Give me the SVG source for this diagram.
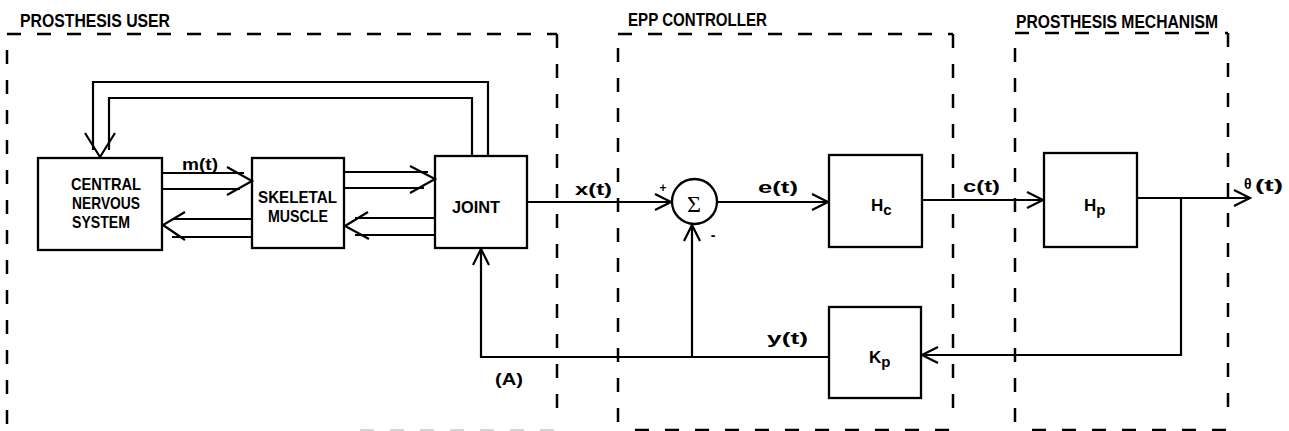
<svg xmlns="http://www.w3.org/2000/svg" width="1289" height="431" viewBox="0 0 1289 431">
<defs>
<style>
.box{fill:none;stroke:#000;stroke-width:2.3}
.ln{fill:none;stroke:#000;stroke-width:2.2;stroke-linejoin:miter}
.dash{fill:none;stroke:#000;stroke-width:2.5;stroke-dasharray:14 16}
.t{font-family:"Liberation Sans",Arial,sans-serif;font-weight:bold;fill:#000}
.s{font-family:"Liberation Sans",Arial,sans-serif;font-weight:bold;fill:#000}
</style>
<marker id="ah" markerUnits="userSpaceOnUse" viewBox="0 0 20 20" markerWidth="20" markerHeight="20" refX="18" refY="10" orient="auto">
<path d="M2,2 L18,10 L2,18" fill="none" stroke="#000" stroke-width="2.2"/>
</marker>
</defs>
<rect width="1289" height="431" fill="#fff"/>

<g id="regions">
<g id="user-region">
<path class="dash" d="M7,34 H557"/>
<path class="dash" d="M7,50 V431"/>
<path class="dash" d="M557,34 V420"/>
<path d="M360,430 H557" fill="none" stroke="#d4d4d4" stroke-width="2" stroke-dasharray="14 16"/>
<text class="t" x="20" y="27" font-size="19" textLength="150" lengthAdjust="spacingAndGlyphs">PROSTHESIS USER</text>
</g>
<g id="epp-region">
<path class="dash" d="M618,34 H953"/>
<path class="dash" d="M618,48 V431"/>
<path class="dash" d="M953,34 V418"/>
<path class="dash" d="M635,430 H953"/>
<text class="t" x="628" y="26" font-size="19" textLength="139" lengthAdjust="spacingAndGlyphs">EPP CONTROLLER</text>
</g>
<g id="mechanism-region">
<path class="dash" d="M1015,33 H1228"/>
<path class="dash" d="M1015,48 V431"/>
<path class="dash" d="M1228,33 V416"/>
<path class="dash" d="M1032,430 H1228"/>
<text class="t" x="1016" y="28" font-size="19" textLength="202" lengthAdjust="spacingAndGlyphs">PROSTHESIS MECHANISM</text>
</g>
</g>

<g id="cns">
<rect class="box" x="38" y="158" width="124" height="92"/>
<text class="t" x="71" y="190" font-size="17" textLength="70" lengthAdjust="spacingAndGlyphs">CENTRAL</text>
<text class="t" x="72" y="209" font-size="17" textLength="68" lengthAdjust="spacingAndGlyphs">NERVOUS</text>
<text class="t" x="72" y="228" font-size="17" textLength="58" lengthAdjust="spacingAndGlyphs">SYSTEM</text>
</g>

<g id="skeletal-muscle">
<rect class="box" x="252" y="158" width="92" height="90"/>
<text class="t" x="258" y="203" font-size="16" textLength="79" lengthAdjust="spacingAndGlyphs">SKELETAL</text>
<text class="t" x="268" y="222" font-size="16" textLength="60" lengthAdjust="spacingAndGlyphs">MUSCLE</text>
</g>

<g id="joint">
<rect class="box" x="435" y="156" width="92" height="92"/>
<text class="t" x="452" y="213" font-size="16" textLength="48" lengthAdjust="spacingAndGlyphs">JOINT</text>
</g>

<g id="summer">
<circle class="box" cx="694.5" cy="201.5" r="22.5"/>
<text x="694" y="212" font-family="Liberation Serif, serif" font-size="24" text-anchor="middle">Σ</text>
</g>

<g id="hc">
<rect class="box" x="829" y="155" width="93" height="92"/>
<text class="s" x="871" y="211" font-size="17">H<tspan font-size="15" dy="4">c</tspan></text>
</g>

<g id="hp">
<rect class="box" x="1044" y="153" width="93" height="94"/>
<text class="s" x="1084" y="211" font-size="17">H<tspan font-size="15" dy="4">p</tspan></text>
</g>

<g id="kp">
<rect class="box" x="829" y="307" width="92" height="91"/>
<text class="s" x="869" y="363" font-size="17">K<tspan font-size="15" dy="4">p</tspan></text>
</g>

<g id="connectors">
<path class="ln" d="M488,156 V82 H93 V150"/>
<path class="ln" d="M472,156 V98 H109 V150"/>
<path class="ln" d="M85,133 L100,157 L115,133"/>
<path class="ln" d="M162,173 H244"/>
<path class="ln" d="M162,189 H240"/>
<path class="ln" d="M227,167 L252,181 L227,195"/>
<text class="s" x="182" y="170" font-size="17" textLength="36" lengthAdjust="spacingAndGlyphs">m(t)</text>
<path class="ln" d="M252,219 H172"/>
<path class="ln" d="M252,237 H172"/>
<path class="ln" d="M185,212 L163,225 L185,240"/>
<path class="ln" d="M344,172 H428"/>
<path class="ln" d="M344,188 H424"/>
<path class="ln" d="M410,166 L435,179 L410,193"/>
<path class="ln" d="M435,218 H355"/>
<path class="ln" d="M435,235 H355"/>
<path class="ln" d="M368,212 L345,226 L369,239"/>
<path class="ln" d="M527,202 H671" marker-end="url(#ah)"/>
<text class="s" x="575" y="195" font-size="17" textLength="37" lengthAdjust="spacingAndGlyphs">x(t)</text>
<text class="s" x="663" y="192" font-size="12" text-anchor="middle">+</text>
<text class="s" x="713" y="240" font-size="14" text-anchor="middle">-</text>
<path class="ln" d="M717,202 H828" marker-end="url(#ah)"/>
<text class="s" x="758" y="193" font-size="17" textLength="40" lengthAdjust="spacingAndGlyphs">e(t)</text>
<path class="ln" d="M922,200 H1043" marker-end="url(#ah)"/>
<text class="s" x="963" y="192" font-size="17" textLength="37" lengthAdjust="spacingAndGlyphs">c(t)</text>
<path class="ln" d="M1137,198 H1250" marker-end="url(#ah)"/>
<text class="s" x="1244" y="189" font-size="14">θ</text>
<text class="s" x="1255" y="191" font-size="17" textLength="28" lengthAdjust="spacingAndGlyphs">(t)</text>
<path class="ln" d="M1181,198 V355 H922" marker-end="url(#ah)"/>
<path class="ln" d="M829,357 H481 V249" marker-end="url(#ah)"/>
<path class="ln" d="M692,357 V225" marker-end="url(#ah)"/>
<text class="s" x="767" y="344" font-size="17" textLength="41" lengthAdjust="spacingAndGlyphs">y(t)</text>
<text class="s" x="495" y="385" font-size="17" textLength="28" lengthAdjust="spacingAndGlyphs">(A)</text>
</g>
</svg>
